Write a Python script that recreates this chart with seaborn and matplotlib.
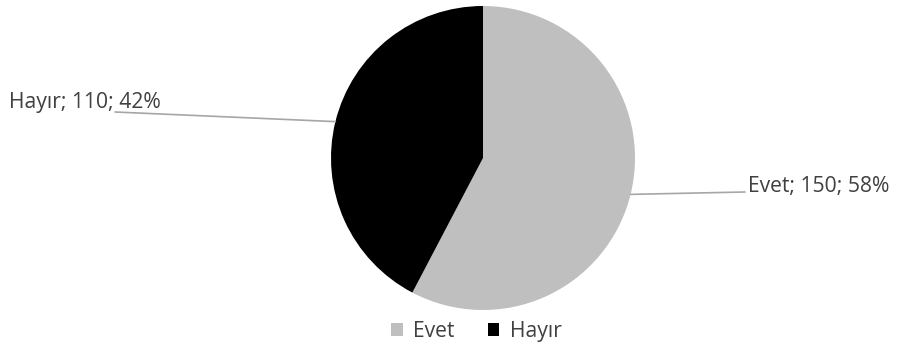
import numpy as np
import matplotlib
matplotlib.use('Agg')
import matplotlib.pyplot as plt
import seaborn as sns
from matplotlib.patches import Patch

categories = ['Evet', 'Hayır']
counts = [150, 110]
percents = [58, 42]
colors = ['#bfbfbf', '#000000']

sns.set_theme(style='white')
plt.rcParams['font.family'] = ['Open Sans', 'DejaVu Sans']
textColor = '#404040'

W, H = 899, 347
fig = plt.figure(figsize=(W / 100, H / 100), dpi=100)
ax = fig.add_axes([0, 0, 1, 1])

center = (483, H - 158)
radius = 152
wedges, _ = ax.pie(counts, colors=colors, startangle=90, counterclock=False,
                   center=center, radius=radius,
                   wedgeprops=dict(linewidth=0))

ax.set_xlim(0, W)
ax.set_ylim(0, H)
ax.set_aspect('equal')
ax.axis('off')

# etiketler
labelPos = {'Evet': (748, H - 186), 'Hayır': (9, H - 102)}
lineEnd = {'Evet': (745, H - 192), 'Hayır': (115, H - 112)}
for w, cat, n, p in zip(wedges, categories, counts, percents):
    ang = np.deg2rad((w.theta1 + w.theta2) / 2)
    px = center[0] + radius * np.cos(ang)
    py = center[1] + radius * np.sin(ang)
    ex, ey = lineEnd[cat]
    ax.plot([px, ex], [py, ey], color='#a6a6a6', linewidth=1.2)
    tx, ty = labelPos[cat]
    ax.text(tx, ty, cat + '; ' + str(n) + '; ' + str(p) + '%', fontsize=15.2,
            color=textColor, ha='left', va='center')

handles = [Patch(facecolor=c, edgecolor='none') for c in colors]
fig.legend(handles, categories, loc='lower center', ncol=2, frameon=False,
           bbox_to_anchor=(0.53, -0.04), fontsize=15.2, labelcolor=textColor,
           handlelength=0.55, handleheight=0.55, handletextpad=0.5,
           columnspacing=1.55)

fig.savefig('out.png', dpi=100)
